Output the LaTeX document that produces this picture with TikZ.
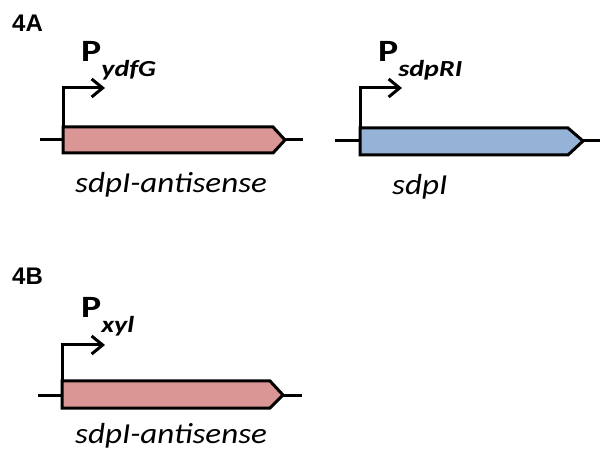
\documentclass[tikz,border=0pt]{standalone}
\usepackage{fontspec}
\setmainfont{Carlito}
\newfontfamily\arialf{Liberation Sans}
\usetikzlibrary{arrows.meta}
\definecolor{genepink}{RGB}{217,150,148}
\definecolor{geneblue}{RGB}{149,179,215}
\newcommand{\wide}[1]{\scalebox{1.22}[1]{#1}}
\newcommand{\gwide}[1]{\scalebox{1.14}[1]{#1}}
\newcommand{\psub}[1]{\raisebox{-15pt}{\fontsize{23}{23}\selectfont\bfseries\itshape #1}}
\begin{document}
\begin{tikzpicture}[x=1pt,y=-1pt,
  lw/.style={line width=3pt},
  backbone/.style={lw},
  genebox/.style={lw, draw=black, line join=miter},
  prom/.style={lw, line join=miter, -{Straight Barb[length=11pt,width=18pt,line width=3pt]}},
  panel/.style={anchor=base west, inner sep=0pt, font=\arialf\bfseries\fontsize{24}{24}\selectfont},
  plabel/.style={anchor=base west, inner sep=0pt, font=\bfseries\fontsize{31}{31}\selectfont},
  glabel/.style={anchor=base west, inner sep=0pt, font=\itshape\fontsize{29}{29}\selectfont}
]
\useasboundingbox (0,0) rectangle (600,462);

% Panel 4A left
\node[panel] (la) at (12,32) {4A};
\coordinate (b1s) at (40,140); \coordinate (b1e) at (303,140);
\draw[backbone] (b1s) -- (b1e);
\draw[genebox, fill=genepink] (63,127) coordinate (g1) -- (273,127) -- (285,140) -- (273,153) -- (63,153) -- cycle;
\coordinate (p1) at (105,88);
\draw[prom] (g1) |- (p1);
\node[plabel] (pl1) at (81,62) {\wide{P\psub{ydfG}}};
\node[glabel] (gl1) at (75,193) {\gwide{sdpI-antisense}};

% Panel 4A right
\coordinate (b2s) at (335,141); \coordinate (b2e) at (600,141);
\draw[backbone] (b2s) -- (b2e);
\draw[genebox, fill=geneblue] (360,128) coordinate (g2) -- (568,128) -- (583,141) -- (568,155) -- (360,155) -- cycle;
\coordinate (p2) at (402,88);
\draw[prom] (g2) |- (p2);
\node[plabel] (pl2) at (378,62) {\wide{P\psub{sdpRI}}};
\node[glabel] (gl2) at (392,195) {\gwide{sdpI}};

% Panel 4B
\node[panel] (lb) at (12,285) {4B};
\coordinate (b3s) at (38,395); \coordinate (b3e) at (302,395);
\draw[backbone] (b3s) -- (b3e);
\draw[genebox, fill=genepink] (62,381) coordinate (g3) -- (270,381) -- (283,395) -- (270,408) -- (62,408) -- cycle;
\coordinate (p3) at (105,345);
\draw[prom] (g3) |- (p3);
\node[plabel] (pl3) at (81,318) {\wide{P\psub{xyl}}};
\node[glabel] (gl3) at (75,443) {\gwide{sdpI-antisense}};
\end{tikzpicture}
\end{document}
